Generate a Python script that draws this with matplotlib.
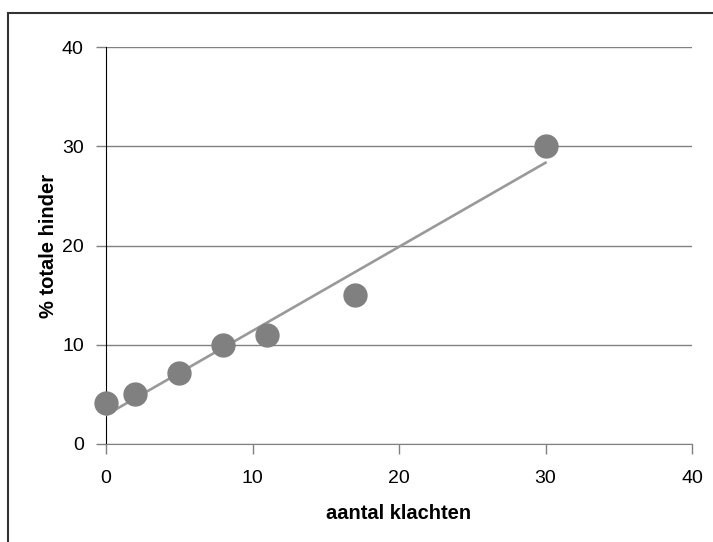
import numpy as np
import matplotlib
matplotlib.use('Agg')
import matplotlib.pyplot as plt
from matplotlib.patches import Rectangle

plt.rcParams['font.family'] = ['Liberation Sans', 'DejaVu Sans']

# data
klachten = [0, 2, 5, 8, 11, 17, 30]
hinder = [4.1, 5.0, 7.2, 10.0, 11.0, 15.0, 30.0]
x_ticks = [0, 10, 20, 30, 40]
y_ticks = [0, 10, 20, 30, 40]

fig = plt.figure(figsize=(7.13, 5.42), dpi=100)
ax = fig.add_axes([106/713, 1 - 444/542, (692 - 106)/713, (444 - 47)/542])

# trendline (lineaire regressie)
a, b = np.polyfit(klachten, hinder, 1)
xs = np.array([min(klachten), max(klachten)])
ax.plot(xs, a*xs + b, color='#999999', lw=1.9, zorder=3)
ax.plot(klachten, hinder, 'o', ms=16.5, color='#808080', mec='#808080', zorder=4, clip_on=False)

ax.set_xlim(0, 40)
ax.set_ylim(0, 40)
ax.set_xticks(x_ticks)
ax.set_yticks(y_ticks)
ax.grid(axis='y', color='#808080', lw=1)
ax.set_axisbelow(True)
for s in ['top', 'right']:
    ax.spines[s].set_visible(False)
ax.spines['left'].set_color('black')
ax.spines['bottom'].set_color('#808080')
ax.tick_params(axis='y', length=7, width=1, color='#808080', labelsize=14, pad=9)
ax.tick_params(axis='x', length=7, width=1, color='#808080', labelsize=14, pad=12)
ax.set_xlabel('aantal klachten', fontsize=14.5, fontweight='bold', labelpad=12)
ax.set_ylabel('% totale hinder', fontsize=14.5, fontweight='bold', labelpad=3)

# kader om de figuur
fig.patches.append(Rectangle((7.5/713, -0.1), 1.2, 1 - 12.5/542 + 0.1, transform=fig.transFigure,
                             fill=False, ec='#333333', lw=1.5))

fig.savefig('out.png', dpi=100)
